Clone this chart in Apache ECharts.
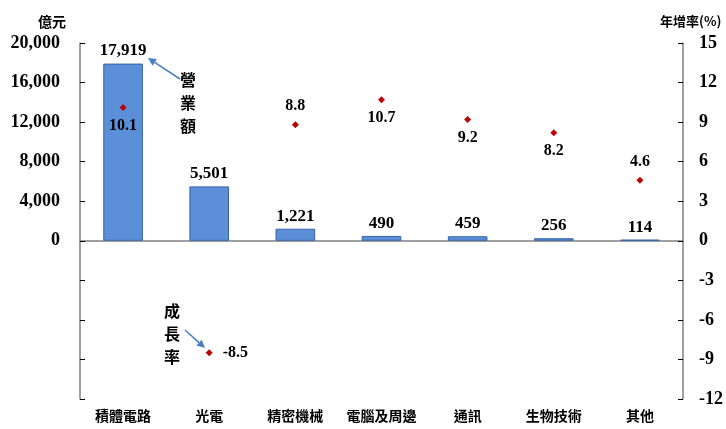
<!DOCTYPE html>
<html><head><meta charset="utf-8">
<script src="https://cdn.jsdelivr.net/npm/echarts@6/dist/echarts.min.js"></script>
<style>html,body{margin:0;padding:0;background:#fff}#c{width:726px;height:429px}</style>
</head><body><div id="c"></div>
<script>
const categories = ['積體電路','光電','精密機械','電腦及周邊','通訊','生物技術','其他'];
const revenue = [17919, 5501, 1221, 490, 459, 256, 114];
const growth = [10.1, -8.5, 8.8, 10.7, 9.2, 8.2, 4.6];
const growthLabelPos = ['bottom','right','top','bottom','bottom','bottom','top'];

const F = '"Liberation Serif","Times New Roman","Noto Sans CJK TC",serif';
const CJK = '"Noto Sans CJK TC","Liberation Serif",serif';
const chart = echarts.init(document.getElementById('c'));
function arrow(x1,y1,x2,y2){
  const ang = Math.atan2(y2-y1,x2-x1), L=8, W=4;
  const bx = x2 - L*Math.cos(ang), by = y2 - L*Math.sin(ang);
  const px = -Math.sin(ang)*W, py = Math.cos(ang)*W;
  return [
    {type:'line',shape:{x1:x1,y1:y1,x2:bx,y2:by},style:{stroke:'#4A7EC2',lineWidth:1.5}},
    {type:'polygon',shape:{points:[[x2,y2],[bx+px,by+py],[bx-px,by-py]]},style:{fill:'#4A7EC2'}}
  ];
}
const gLabel = {show:true,fontFamily:F,fontWeight:'bold',fontSize:16,color:'#000',formatter:p=>p.value.toFixed(1)};
chart.setOption({
  animation:false,
  grid:{left:80,right:43,top:43,bottom:30},
  xAxis:[
    {type:'category',data:categories,position:'bottom',axisLine:{onZero:true,lineStyle:{color:'#808080',width:1.5}},axisTick:{show:false},axisLabel:{show:false}},
    {type:'category',data:categories,position:'bottom',axisLine:{show:false},axisTick:{show:false},
     axisLabel:{interval:0,margin:10,fontFamily:CJK,fontWeight:'bold',fontSize:14,color:'#000'}}
  ],
  yAxis:[
    {type:'value',min:-16000,max:20000,interval:4000,splitLine:{show:false},
     axisLine:{show:true,lineStyle:{color:'#808080',width:1.5}},
     axisTick:{show:true,inside:true,length:5,lineStyle:{color:'#000'}},
     axisLabel:{margin:20,fontFamily:F,fontWeight:'bold',fontSize:18,color:'#000',
       formatter:v=>v<0?'':v.toLocaleString('en-US')}},
    {type:'value',min:-12,max:15,interval:3,splitLine:{show:false},
     axisLine:{show:true,lineStyle:{color:'#808080',width:1.5}},
     axisTick:{show:true,inside:true,length:5,lineStyle:{color:'#000'}},
     axisLabel:{margin:16,fontFamily:F,fontWeight:'bold',fontSize:18,color:'#000'}}
  ],
  series:[
    {type:'bar',xAxisIndex:0,yAxisIndex:0,data:revenue,barWidth:'46%',
     itemStyle:{color:'#5B8FD7',borderColor:'#3565A8',borderWidth:1},
     label:{show:true,position:'top',distance:4,fontFamily:F,fontWeight:'bold',fontSize:17,color:'#000',
       formatter:p=>p.value.toLocaleString('en-US')}},
    {type:'scatter',xAxisIndex:0,yAxisIndex:1,symbol:'diamond',symbolSize:7,
     itemStyle:{color:'#C00000',opacity:1},
     data:growth.map((v,i)=>({value:v,label:Object.assign({},gLabel,{position:growthLabelPos[i],distance:growthLabelPos[i]==='right'?10:7})})),
     label:gLabel}
  ],
  graphic:[
    {type:'text',left:38,top:15,style:{text:'億元',font:'bold 14px '+CJK,fill:'#000'}},
    {type:'text',left:660,top:15,style:{text:'年增率(%)',font:'bold 13px '+CJK,fill:'#000'}},
    {type:'text',left:180,top:68,style:{text:'營\n業\n額',font:'bold 16px '+CJK,lineHeight:23,fill:'#000'}},
    {type:'text',left:164,top:299,style:{text:'成\n長\n率',font:'bold 16px '+CJK,lineHeight:23,fill:'#000'}},
    ...arrow(180,79,148,58),
    ...arrow(185,330,205,348)
  ]
});
</script></body></html>
